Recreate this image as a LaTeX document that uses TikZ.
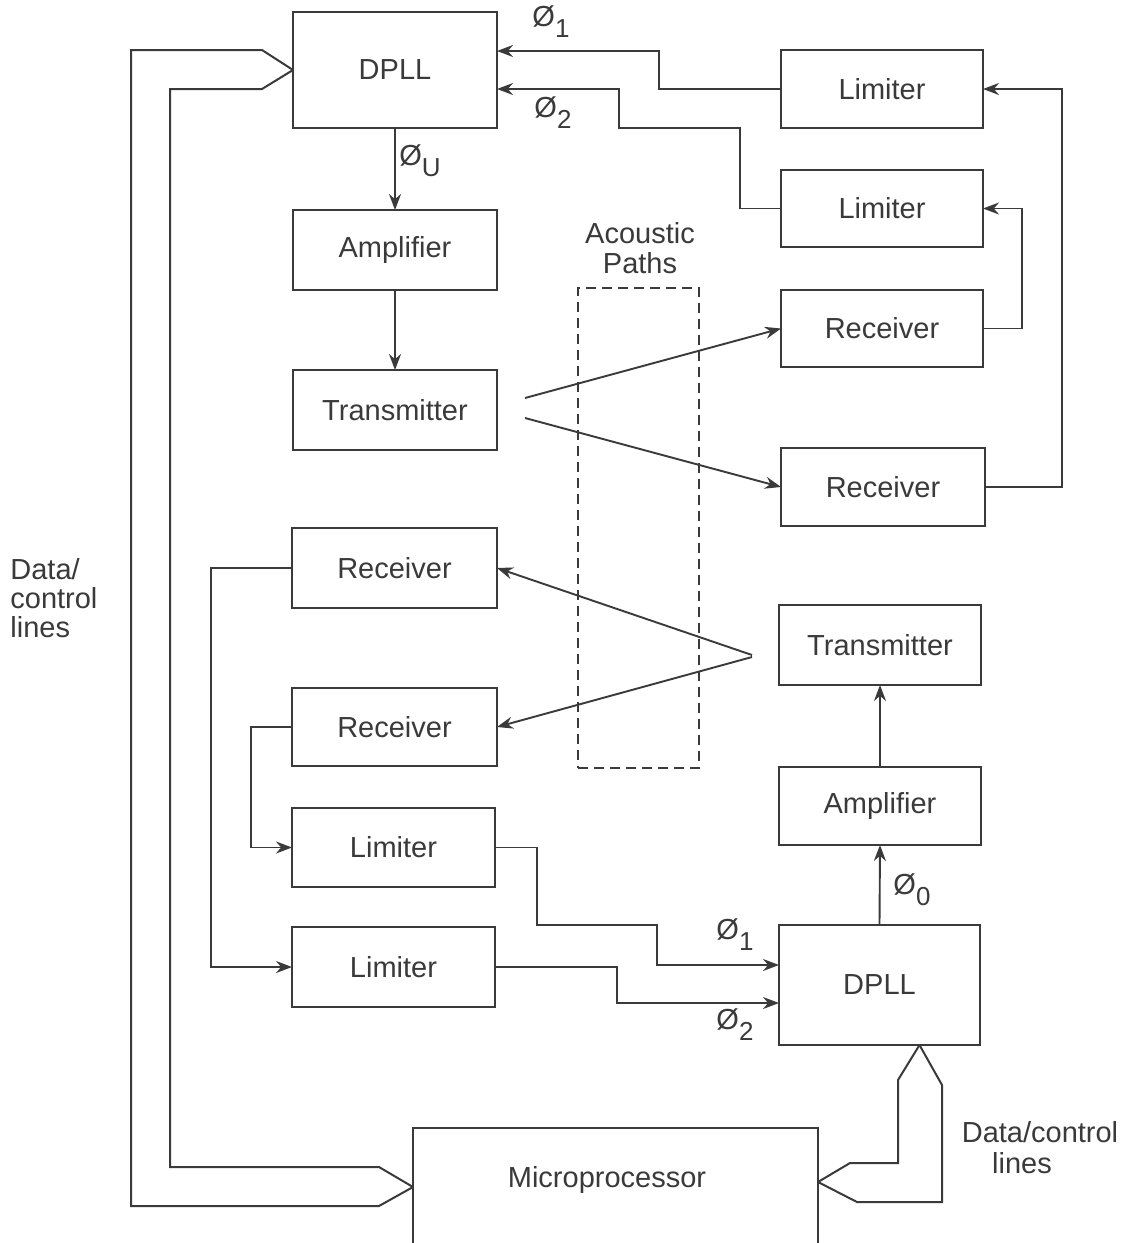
\documentclass[tikz,border=0pt]{standalone}
\usepackage{fontspec}
\setmainfont{Liberation Sans}
\usetikzlibrary{arrows.meta,calc}
\definecolor{ink}{HTML}{3A3A3A}
\newcommand{\phisub}[1]{Ø\raisebox{-0.38em}{\fontsize{13}{13}\selectfont #1}}
\begin{document}
\begin{tikzpicture}[x=0.5pt,y=-0.5pt,
  box/.style={draw=ink, line width=1.1pt, inner sep=0pt, outer sep=0pt,
    font=\fontsize{14.5}{17}\selectfont, text=ink, minimum width=102pt, minimum height=40pt},
  arr/.style={draw=ink, line width=0.95pt, -{Stealth[length=8pt,width=6pt]}},
  bus/.style={draw=ink, line width=1pt},
  lbl/.style={text=ink, font=\fontsize{14.5}{14.5}\selectfont, inner sep=0pt}]
\fill[white] (0,0) rectangle (1136,1243);
\useasboundingbox (0,0) rectangle (1136,1243);

% left column
\node[box, minimum height=58pt] (dpllA) at (395,70) {DPLL};
\node[box] (ampA) at (395,250) {Amplifier};
\node[box] (txA) at (395,410) {Transmitter};
\node[box, minimum width=102.5pt] (rxC) at (394.5,568) {Receiver};
\node[box, minimum width=102.5pt, minimum height=39pt] (rxD) at (394.5,727) {Receiver};
\node[box, minimum width=101.5pt, minimum height=39.5pt] (limC) at (393.5,847.5) {Limiter};
\node[box, minimum width=101.5pt] (limD) at (393.5,967) {Limiter};

% right column
\node[box, minimum width=101pt, minimum height=39pt] (limA) at (882,89) {Limiter};
\node[box, minimum width=101pt, minimum height=38.5pt] (limB) at (882,208.5) {Limiter};
\node[box, minimum width=101pt, minimum height=38.5pt] (rxA) at (882,328.5) {Receiver};
\node[box, minimum height=39pt] (rxB) at (883,487) {Receiver};
\node[box, minimum width=101pt] (txB) at (880,645) {Transmitter};
\node[box, minimum width=101pt, minimum height=39pt] (ampB) at (880,806) {Amplifier};
\node[box, minimum width=100.5pt, minimum height=60pt] (dpllB) at (879.5,985) {DPLL};

% microprocessor
\node[box, anchor=north west, minimum width=202.5pt, minimum height=70pt] (micro) at (413,1128) {};
\node[lbl] (microtext) at (607,1180) {Microprocessor};

% acoustic paths
\node[draw=ink, line width=0.9pt, dash pattern=on 5pt off 3pt, inner sep=0pt,
  minimum width=60.5pt, minimum height=240pt] (acoustic) at (638.5,528) {};
\node[lbl, align=center, font=\fontsize{14.5}{15}\selectfont] (aclbl) at (640,248) {Acoustic\\Paths};

% top DPLL inputs
\draw[arr] (limA.west) -| (659,51) -- ($(dpllA.east)+(0,-19)$);
\draw[arr] (limB.west) -| (740,128) -| (619,89) -- ($(dpllA.east)+(0,19)$);
\node[lbl] (p1a) at (551,22) {\phisub{1}};
\node[lbl] (p2a) at (553,113) {\phisub{2}};

% receivers to limiters (top right)
\draw[arr] (rxB.east) -- (1062,487) |- (limA.east);
\draw[arr] (rxA.east) -- (1022,328.5) |- (limB.east);

% top chain
\draw[arr] (dpllA.south) -- (ampA.north);
\node[lbl] (p0a) at (420,161) {\phisub{U}};
\draw[arr] (ampA.south) -- (txA.north);

% acoustic links top
\draw[arr] ($(txA.east)+(28,-12)$) -- (rxA.west);
\draw[arr] ($(txA.east)+(28,8)$) -- (rxB.west);

% acoustic links bottom
\draw[arr] ($(txB.west)+(-27,10)$) -- (rxC.east);
\draw[arr] ($(txB.west)+(-27,12)$) -- (rxD.east);

% receivers to limiters (bottom left)
\draw[arr] (rxC.west) -- (211,568) |- (limD.west);
\draw[arr] (rxD.west) -- (251,727) |- (limC.west);

% limiters to bottom DPLL
\draw[arr] (limC.east) -| (537,925) -| (657,965) -- ($(dpllB.west)+(0,-20)$);
\draw[arr] (limD.east) -| (617,1003) -- ($(dpllB.west)+(0,18)$);
\node[lbl] (p1b) at (735,935) {\phisub{1}};
\node[lbl] (p2b) at (735,1025) {\phisub{2}};

% bottom chain
\draw[arr] (dpllB.north) -- (ampB.south);
\node[lbl] (p0b) at (912,890) {\phisub{0}};
\draw[arr] (ampB.north) -- (txB.south);

% data/control buses
\coordinate (mw) at ($(micro.north west)+(0,59)$);
\coordinate (me) at ($(micro.north east)+(0,54)$);
\coordinate (dtip) at ($(dpllB.south)+(40,0)$);
\draw[bus] (dpllA.west) -- (262,50) -- (131,50) -- (131,1206) -- (379,1206) -- (mw);
\draw[bus] (dpllA.west) -- (262,89) -- (170,89) -- (170,1167) -- (379,1167) -- (mw);
\draw[bus] (dtip) -- (898,1080) -- (898,1163) -- (850,1163) -- (me);
\draw[bus] (dtip) -- (942,1085) -- (942,1202) -- (857,1202) -- (me);

\node[lbl, anchor=west, align=left] (dcl1) at (10,598) {Data/\\control\\lines};
\node[lbl, align=center] (dcl2) at (1040,1148) {Data/control\\[1pt]\hspace*{-18pt}lines};
\end{tikzpicture}
\end{document}
